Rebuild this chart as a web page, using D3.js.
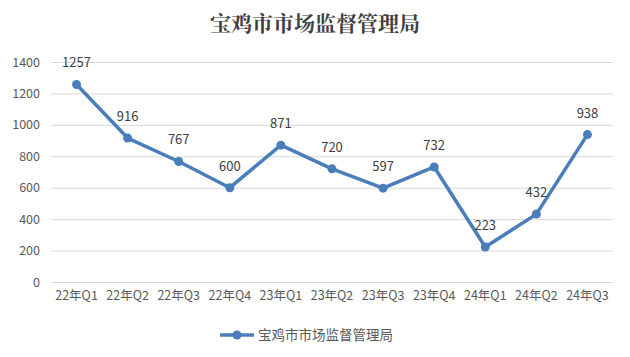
<!DOCTYPE html>
<html><head><meta charset="utf-8">
<script src="https://cdn.jsdelivr.net/npm/d3@7"></script>
<style>body{margin:0;background:#fff}svg{display:block}</style>
</head><body>
<script>
const categories = ["22年Q1","22年Q2","22年Q3","22年Q4","23年Q1","23年Q2","23年Q3","23年Q4","24年Q1","24年Q2","24年Q3"];
const values = [1257,916,767,600,871,720,597,732,223,432,938];
const yTicks = [0,200,400,600,800,1000,1200,1400];
const seriesName = "宝鸡市市场监督管理局";
const title = "宝鸡市市场监督管理局";

(function(){
const W=630,H=357;
const svg=d3.select("body").append("svg").attr("width",W).attr("height",H);
const font="'Noto Sans CJK SC','Noto Sans',sans-serif";
const pl=51,pr=613,pt=62,pb=282;
const x=d3.scaleBand().domain(categories).range([pl,pr]);
const y=d3.scaleLinear().domain([0,1400]).range([pb,pt]);
const blue="#4a7ebb";

svg.append("text").attr("x",315).attr("y",31).attr("text-anchor","middle")
 .attr("font-family","'Noto Serif CJK SC','Noto Sans CJK SC',serif").attr("font-weight","bold")
 .attr("font-size",21).attr("fill","#404040").text(title);

const ya=svg.append("g").attr("transform",`translate(${pl},0)`)
 .call(d3.axisLeft(y).tickValues(yTicks).tickFormat(d3.format("d")).tickSize(-(pr-pl)).tickPadding(11));
ya.select(".domain").remove();
ya.selectAll("line").attr("stroke","#d9d9d9");
ya.selectAll("text").attr("font-family",font).attr("font-size",12.5).attr("fill","#595959");

const xa=svg.append("g").attr("transform",`translate(0,${pb})`)
 .call(d3.axisBottom(x).tickSize(0).tickPadding(9));
xa.select(".domain").attr("stroke","#d9d9d9");
xa.selectAll("text").attr("font-family",font).attr("font-size",12.5).attr("fill","#595959");

const cx=d=>x(d)+x.bandwidth()/2;
const line=d3.line().x((d,i)=>cx(categories[i])).y(d=>y(d));
svg.append("path").datum(values).attr("d",line).attr("fill","none")
 .attr("stroke",blue).attr("stroke-width",3.5).attr("stroke-linejoin","round");
svg.selectAll("circle.pt").data(values).join("circle").attr("class","pt")
 .attr("cx",(d,i)=>cx(categories[i])).attr("cy",d=>y(d)).attr("r",4.5).attr("fill",blue);
svg.selectAll("text.lbl").data(values).join("text").attr("class","lbl")
 .attr("x",(d,i)=>cx(categories[i])).attr("y",d=>y(d)-17).attr("text-anchor","middle")
 .attr("font-family",font).attr("font-size",13).attr("fill","#404040").text(d=>d);

const lg=svg.append("g").attr("transform","translate(220,335)");
lg.append("line").attr("x1",0).attr("x2",34).attr("stroke",blue).attr("stroke-width",3.5);
lg.append("circle").attr("cx",17).attr("r",4.5).attr("fill",blue);
lg.append("text").attr("x",38).attr("y",0).attr("dy","0.35em").attr("font-family",font)
 .attr("font-size",13.5).attr("fill","#595959").text(seriesName);
})();
</script>
</body></html>
